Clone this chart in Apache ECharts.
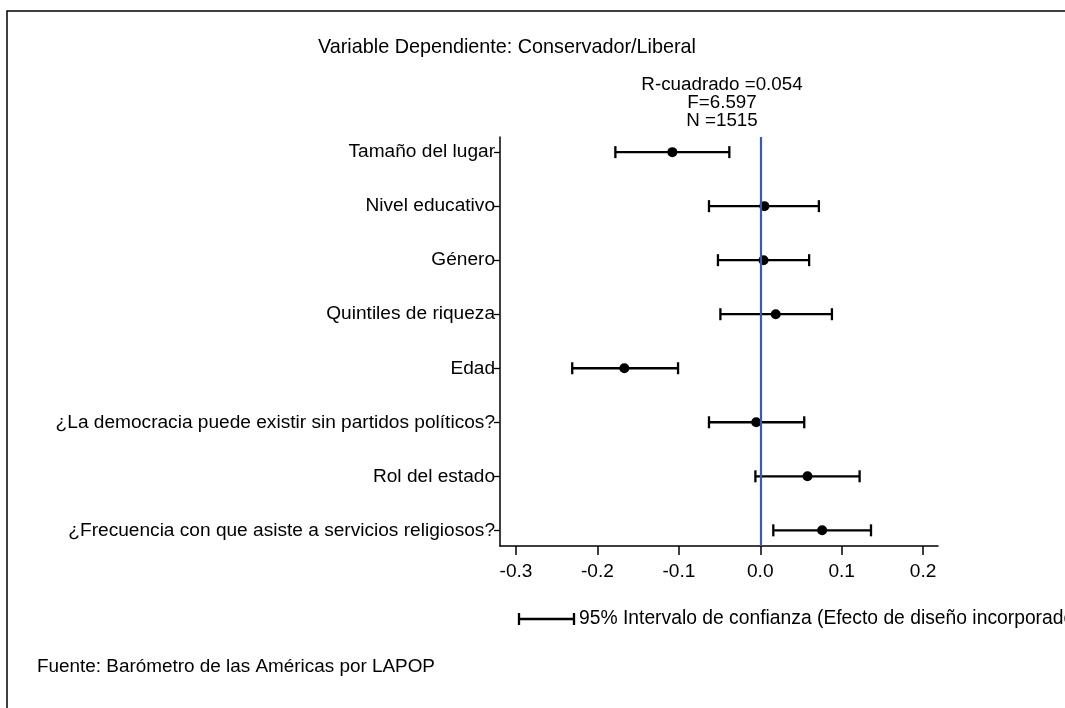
<!DOCTYPE html>
<html>
<head>
<meta charset="utf-8">
<script src="https://cdn.jsdelivr.net/npm/echarts@6/dist/echarts.min.js"></script>
<style>
html,body{margin:0;padding:0;background:#fff;}
#chart{width:1065px;height:708px;}
</style>
</head>
<body>
<div id="chart"></div>
<script>
// ---- Data ----
var categories = [
  'Tamaño del lugar',
  'Nivel educativo',
  'Género',
  'Quintiles de riqueza',
  'Edad',
  '¿La democracia puede existir sin partidos políticos?',
  'Rol del estado',
  '¿Frecuencia con que asiste a servicios religiosos?'
];
var coefficients = [-0.108, 0.005, 0.004, 0.019, -0.167, -0.005, 0.058, 0.076];
var ciLower      = [-0.178, -0.063, -0.052, -0.049, -0.231, -0.063, -0.006, 0.016];
var ciUpper      = [-0.038, 0.072, 0.060, 0.088, -0.101, 0.054, 0.122, 0.136];
var xTickValues  = [-0.3, -0.2, -0.1, 0.0, 0.1, 0.2];
var statLines    = ['R-cuadrado =0.054', 'F=6.597', 'N =1515'];
var titleText    = 'Variable Dependiente: Conservador/Liberal';
var legendText   = '95% Intervalo de confianza (Efecto de diseño incorporado)';
var sourceText   = 'Fuente: Barómetro de las Américas por LAPOP';

var FONT = "'Liberation Sans', Arial, sans-serif";
var FS = 19.1;
var idx = categories.map(function (c, i) { return i; });

var ciData = categories.map(function (c, i) { return [ciLower[i], ciUpper[i], i]; });
var pointData = categories.map(function (c, i) { return [coefficients[i], i]; });

var chart = echarts.init(document.getElementById('chart'), null, {renderer: 'canvas'});

var graphics = [
  {type: 'rect', shape: {x: 7, y: 11, width: 1200, height: 900},
   style: {fill: 'none', stroke: '#000', lineWidth: 1.5}, silent: true},
  {type: 'text', x: 507, y: 48,
   style: {text: titleText, font: '19.8px ' + FONT, fill: '#000', textVerticalAlign: 'middle', textAlign: 'center'}},
  {type: 'text', x: 37, y: 667,
   style: {text: sourceText, font: '18.9px ' + FONT, fill: '#000', textVerticalAlign: 'middle', textAlign: 'left'}},
  {type: 'line', shape: {x1: 519, y1: 619, x2: 574, y2: 619}, style: {stroke: '#000', lineWidth: 2.3}},
  {type: 'line', shape: {x1: 519, y1: 613, x2: 519, y2: 625}, style: {stroke: '#000', lineWidth: 2.3}},
  {type: 'line', shape: {x1: 574, y1: 613, x2: 574, y2: 625}, style: {stroke: '#000', lineWidth: 2.3}},
  {type: 'text', x: 579, y: 619,
   style: {text: legendText, font: '19.3px ' + FONT, fill: '#000', textVerticalAlign: 'middle', textAlign: 'left'}}
];
statLines.forEach(function (s, i) {
  graphics.push({type: 'text', x: 722, y: 85 + i * 18,
    style: {text: s, font: '18.8px ' + FONT, fill: '#000', textVerticalAlign: 'middle', textAlign: 'center'}});
});

var option = {
  animation: false,
  backgroundColor: '#fff',
  grid: {left: 500, top: 137, width: 438, height: 409, containLabel: false},
  xAxis: {
    type: 'value',
    min: -0.3197, max: 0.2183,
    axisLine: {show: true, onZero: false, lineStyle: {color: '#000', width: 1.5}},
    axisTick: {show: true, customValues: xTickValues, length: 9, lineStyle: {color: '#000', width: 1.5}},
    axisLabel: {customValues: xTickValues, color: '#000', fontSize: FS, fontFamily: FONT, margin: 16,
      formatter: function (v) { return (Math.abs(v) < 1e-9 ? 0 : v).toFixed(1); }},
    splitLine: {show: false}
  },
  yAxis: {
    type: 'value',
    inverse: true,
    min: -0.28, max: 7.29,
    axisLine: {show: true, onZero: false, lineStyle: {color: '#000', width: 1.5}},
    axisTick: {show: true, customValues: idx, length: 6, lineStyle: {color: '#000', width: 1.3}},
    axisLabel: {customValues: idx, color: '#000', fontSize: FS, fontFamily: FONT, margin: 5,
      formatter: function (v) { return categories[Math.round(v)]; }},
    splitLine: {show: false}
  },
  graphic: graphics,
  series: [
    {
      type: 'custom',
      z: 2,
      data: ciData,
      encode: {x: [0, 1], y: 2},
      renderItem: function (params, api) {
        var y = api.value(2);
        var p1 = api.coord([api.value(0), y]);
        var p2 = api.coord([api.value(1), y]);
        var h = 6;
        var st = {stroke: '#000', lineWidth: 2.3, fill: 'none'};
        return {type: 'group', children: [
          {type: 'line', shape: {x1: p1[0], y1: p1[1], x2: p2[0], y2: p2[1]}, style: st},
          {type: 'line', shape: {x1: p1[0], y1: p1[1] - h, x2: p1[0], y2: p1[1] + h}, style: st},
          {type: 'line', shape: {x1: p2[0], y1: p2[1] - h, x2: p2[0], y2: p2[1] + h}, style: st}
        ]};
      }
    },
    {
      type: 'scatter',
      z: 3,
      data: [],
      markLine: {
        silent: true, symbol: 'none', label: {show: false},
        lineStyle: {color: '#3a5bab', width: 2.2, type: 'solid', opacity: 1},
        data: [{xAxis: 0}]
      }
    },
    {
      type: 'scatter',
      z: 4,
      symbol: 'circle',
      symbolSize: 10,
      itemStyle: {color: '#000', opacity: 1},
      data: pointData
    }
  ]
};
chart.setOption(option);
</script>
</body>
</html>
